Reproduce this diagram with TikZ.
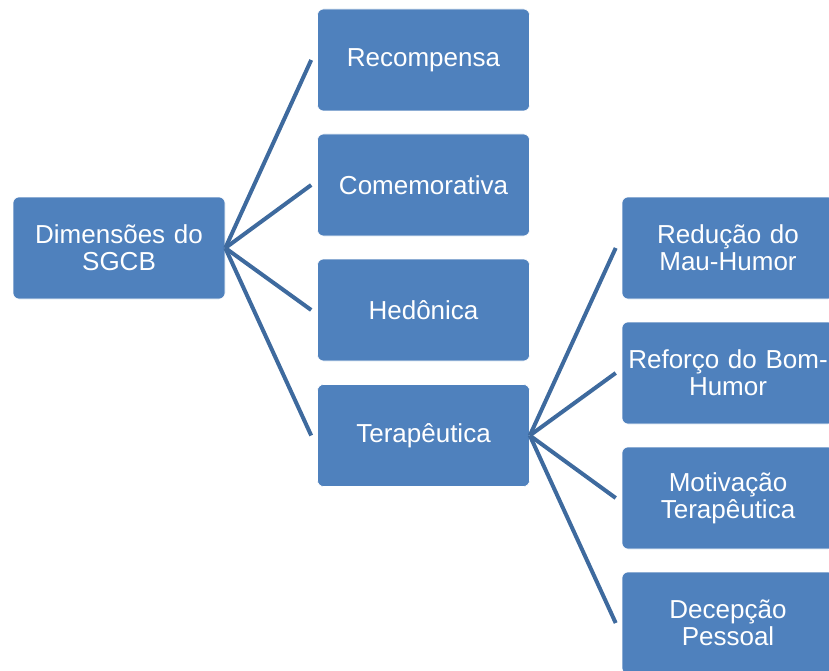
\documentclass[tikz,border=0pt]{standalone}
\usepackage{fontspec}
\setmainfont{Liberation Sans}
\definecolor{boxfill}{HTML}{4F81BD}
\definecolor{linkcol}{HTML}{3E6A9E}
\begin{document}
\begin{tikzpicture}[x=1pt,y=-1pt,
  box/.style={rectangle, rounded corners=6pt, fill=boxfill, draw=white, line width=0.6pt,
    minimum width=212pt, minimum height=102pt, inner sep=0pt, text width=208pt, align=center,
    text=white, font=\fontsize{26}{27}\selectfont},
  link/.style={draw=linkcol, line width=4pt}]
\useasboundingbox (0,0) rectangle (829,671);
\node[box] (root) at (119,248) {Dimensões do\\SGCB};
\node[box] (r1) at (423.5,60) {Recompensa};
\node[box] (r2) at (423.5,185) {Comemorativa};
\node[box] (r3) at (423.5,310) {Hedônica};
\node[box] (r4) at (423.5,435.5) {Terapêutica};
\node[box] (t1) at (728,248) {Redução do\\Mau-Humor};
\node[box] (t2) at (728,373) {Reforço do Bom-\\Humor};
\node[box] (t3) at (728,498) {Motivação\\Terapêutica};
\node[box] (t4) at (728,623) {Decepção\\Pessoal};
\foreach \n in {r1,r2,r3,r4}
  \draw[link] (root.east) -- ([xshift=-6pt]\n.west);
\foreach \n in {t1,t2,t3,t4}
  \draw[link] (r4.east) -- ([xshift=-6pt]\n.west);
\end{tikzpicture}
\end{document}
